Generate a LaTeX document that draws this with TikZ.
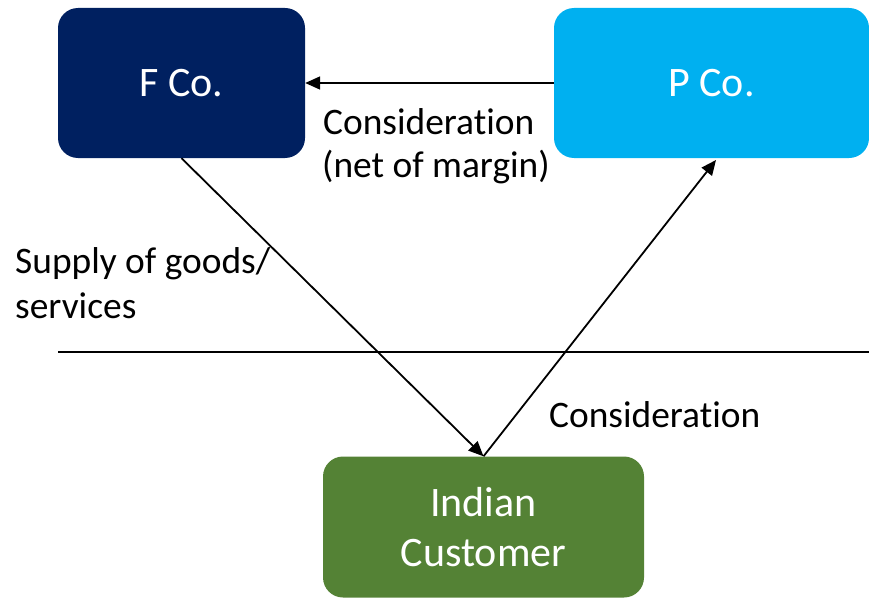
\documentclass[tikz,border=0pt]{standalone}
\usepackage{fontspec}
\setmainfont[Ligatures=NoCommon]{Carlito}
\usetikzlibrary{arrows.meta}
\definecolor{fnavy}{HTML}{002060}
\definecolor{pblue}{HTML}{00B0F0}
\definecolor{cgreen}{HTML}{548235}
\tikzset{
  cobox/.style={rounded corners=20pt, inner sep=0pt, align=center, text=white,
    font=\fontsize{42}{50}\selectfont},
  conn/.style={line width=1.8pt, -{Triangle[length=15pt,width=13pt]}},
  lbl/.style={font=\fontsize{37.4}{44}\selectfont, inner sep=0pt, anchor=base west, align=left}
}
\begin{document}
\begin{tikzpicture}[x=1pt,y=-1pt]
\useasboundingbox (0,0) rectangle (869,599);
\node[cobox, fill=fnavy, minimum width=247pt, minimum height=150pt] (F) at (181.5,83) {F Co.};
\node[cobox, fill=pblue, minimum width=315pt, minimum height=150pt] (P) at (711.5,83) {P Co.};
\node[cobox, fill=cgreen, minimum width=321pt, minimum height=141pt] (C) at (483.5,527) {Indian\\Customer};
\coordinate (Ptip) at (716,160);
\coordinate (L1) at (58,352);
\coordinate (L2) at (869,352);
\draw[conn] (P.west) -- (F.east);
\draw[conn] (F.south) -- (C.north);
\draw[conn] (C.north) -- (Ptip);
\draw[line width=1.8pt] (L1) -- (L2);
\node[lbl] (t1) at (323,135) {Consideration};
\node[lbl] (t2) at (322,177) {(net of margin)};
\node[lbl] (t3) at (15,273) {Supply of goods/};
\node[lbl] (t4) at (15,318) {services};
\node[lbl] (t5) at (549,427) {Consideration};
\end{tikzpicture}
\end{document}
